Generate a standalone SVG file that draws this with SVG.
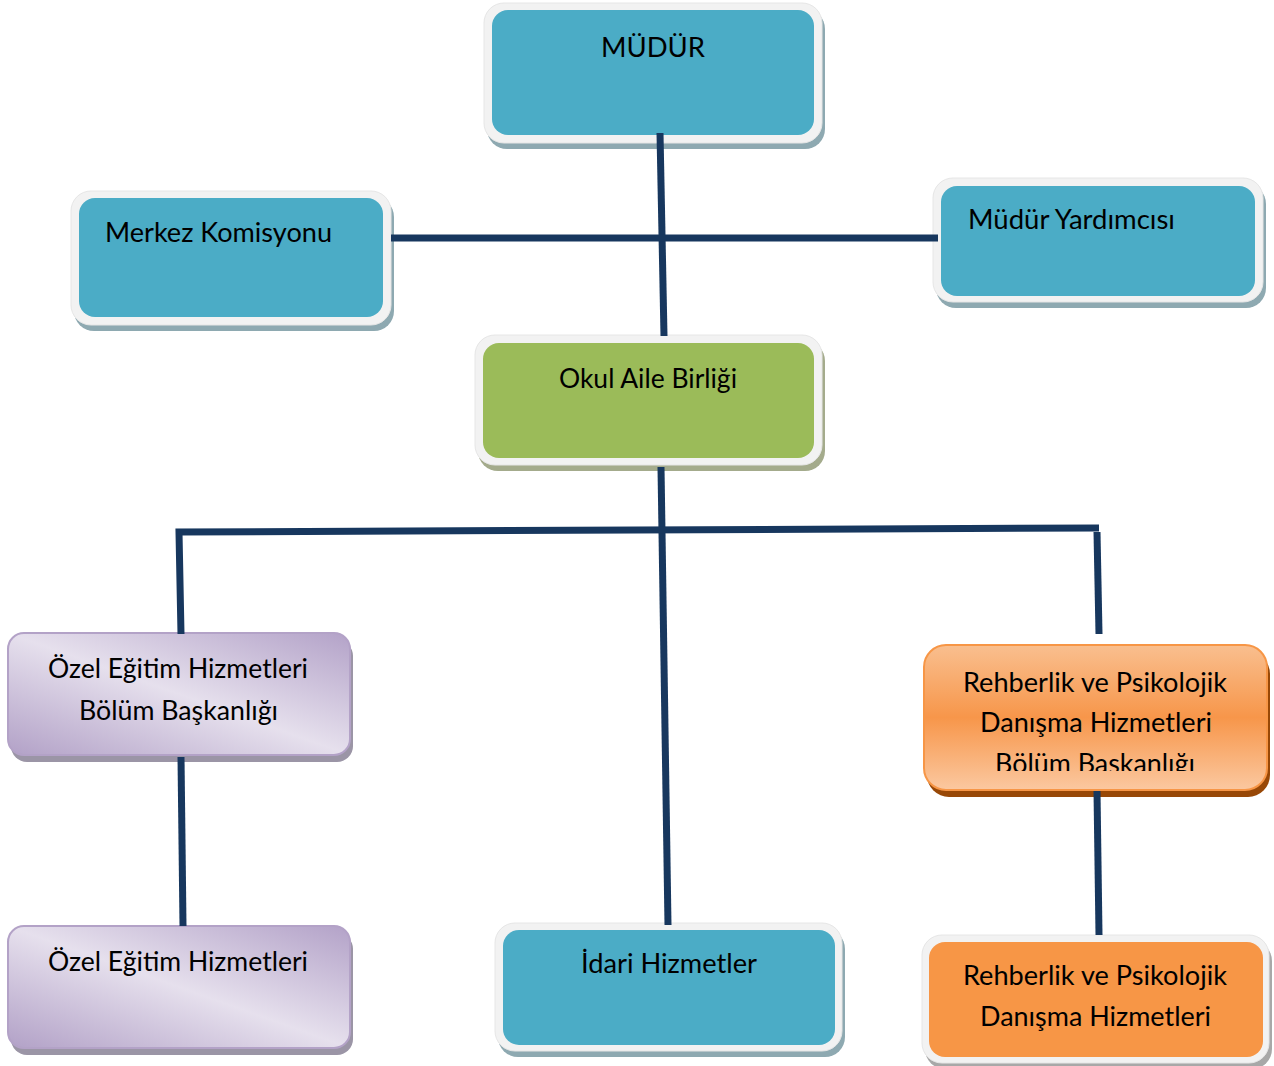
<svg xmlns="http://www.w3.org/2000/svg" width="1274" height="1066" viewBox="0 0 1274 1066">
<defs>
<linearGradient id="purp" x1="0" y1="1" x2="1" y2="0">
<stop offset="0" stop-color="#b2a1c7"/>
<stop offset="0.5" stop-color="#e6e0ed"/>
<stop offset="1" stop-color="#b3a2c8"/>
</linearGradient>
<linearGradient id="orng" x1="0" y1="0" x2="0" y2="1">
<stop offset="0" stop-color="#f9bf8f"/>
<stop offset="0.5" stop-color="#f7964a"/>
<stop offset="1" stop-color="#fbc8a0"/>
</linearGradient>
<clipPath id="clipO"><rect x="924" y="645" width="343" height="126"/></clipPath>
</defs>
<style>
.frame{fill:#f2f2f2;stroke:#e6e6e6;stroke-width:1}
.shb{fill:#8ea9b1}
.shg{fill:#a4ab8c}
.sho{fill:#a8a8a8}
.blue{fill:#4bacc6}
.green{fill:#9bbb59}
.orange{fill:#f79646}
.purple{fill:url(#purp);stroke:#b3a2c7;stroke-width:2}
.shp{fill:#9b95a6}
.t{font-family:Lato,"Open Sans","Liberation Sans",sans-serif;font-size:26px;fill:#000}
.conn{stroke:#17375e;stroke-width:7;fill:none;stroke-linejoin:miter}
</style>

<g id="mudur">
<rect class="shb" x="487" y="9" width="338" height="140" rx="20"/>
<rect class="frame" x="484" y="3" width="338" height="140" rx="20"/>
<rect class="blue" x="492" y="10" width="322" height="125" rx="16"/>
<text class="t" x="601" y="57" textLength="104" lengthAdjust="spacingAndGlyphs">MÜDÜR</text>
</g>

<g id="merkez">
<rect class="shb" x="74" y="197" width="320" height="134" rx="20"/>
<rect class="frame" x="71" y="191" width="320" height="134" rx="20"/>
<rect class="blue" x="79" y="198" width="304" height="119" rx="16"/>
<text class="t" x="105" y="242" textLength="227" lengthAdjust="spacingAndGlyphs">Merkez Komisyonu</text>
</g>

<g id="mudur-yrd">
<rect class="shb" x="936" y="184" width="330" height="124" rx="20"/>
<rect class="frame" x="933" y="178" width="330" height="124" rx="20"/>
<rect class="blue" x="941" y="186" width="314" height="110" rx="16"/>
<text class="t" x="968" y="229" textLength="207" lengthAdjust="spacingAndGlyphs">Müdür Yardımcısı</text>
</g>

<g id="okul-aile">
<rect class="shg" x="478" y="341" width="347" height="130" rx="20"/>
<rect class="frame" x="475" y="335" width="347" height="130" rx="20"/>
<rect class="green" x="483" y="343" width="331" height="115" rx="16"/>
<text class="t" x="559" y="388" textLength="178" lengthAdjust="spacingAndGlyphs">Okul Aile Birliği</text>
</g>

<g id="ozel-bolum">
<rect class="shp" x="11" y="640" width="342" height="122" rx="16"/>
<rect class="purple" x="8" y="633" width="342" height="122" rx="16"/>
<text class="t" x="48" y="678" textLength="260" lengthAdjust="spacingAndGlyphs">Özel Eğitim Hizmetleri</text>
<text class="t" x="79" y="720" textLength="199" lengthAdjust="spacingAndGlyphs">Bölüm Başkanlığı</text>
</g>

<g id="rehberlik-bolum">
<rect x="927" y="652" width="343" height="145" rx="22" fill="#984807"/>
<rect x="924" y="645" width="343" height="145" rx="22" fill="url(#orng)" stroke="#f79646" stroke-width="2"/>
<text class="t" x="963" y="692" textLength="264" lengthAdjust="spacingAndGlyphs">Rehberlik ve Psikolojik</text>
<text class="t" x="980" y="732" textLength="232" lengthAdjust="spacingAndGlyphs">Danışma Hizmetleri</text>
<text class="t" x="995" y="773" textLength="200" lengthAdjust="spacingAndGlyphs" clip-path="url(#clipO)">Bölüm Başkanlığı</text>
</g>

<g id="ozel-hizmet">
<rect class="shp" x="11" y="933" width="342" height="122" rx="16"/>
<rect class="purple" x="8" y="926" width="342" height="122" rx="16"/>
<text class="t" x="48" y="971" textLength="260" lengthAdjust="spacingAndGlyphs">Özel Eğitim Hizmetleri</text>
</g>

<g id="idari">
<rect class="shb" x="498" y="929" width="347" height="128" rx="20"/>
<rect class="frame" x="495" y="923" width="347" height="128" rx="20"/>
<rect class="blue" x="503" y="930" width="332" height="115" rx="16"/>
<text class="t" x="581" y="973" textLength="176" lengthAdjust="spacingAndGlyphs">İdari Hizmetler</text>
</g>

<g id="rehberlik-hizmet">
<rect class="sho" x="925" y="941" width="347" height="128" rx="20"/>
<rect class="frame" x="922" y="935" width="347" height="128" rx="20"/>
<rect class="orange" x="929" y="942" width="334" height="115" rx="16"/>
<text class="t" x="963" y="985" textLength="264" lengthAdjust="spacingAndGlyphs">Rehberlik ve Psikolojik</text>
<text class="t" x="980" y="1026" textLength="231" lengthAdjust="spacingAndGlyphs">Danışma Hizmetleri</text>
</g>

<g id="connectors">
<line class="conn" x1="660" y1="133" x2="664" y2="336"/>
<line class="conn" x1="391" y1="238" x2="938" y2="238"/>
<line class="conn" x1="661" y1="467" x2="668" y2="925"/>
<polyline class="conn" points="181,634 179,532 1099,528"/>
<line class="conn" x1="1097" y1="532" x2="1099" y2="634"/>
<line class="conn" x1="181" y1="757" x2="183" y2="926"/>
<line class="conn" x1="1097" y1="791" x2="1099" y2="935"/>
</g>
</svg>
